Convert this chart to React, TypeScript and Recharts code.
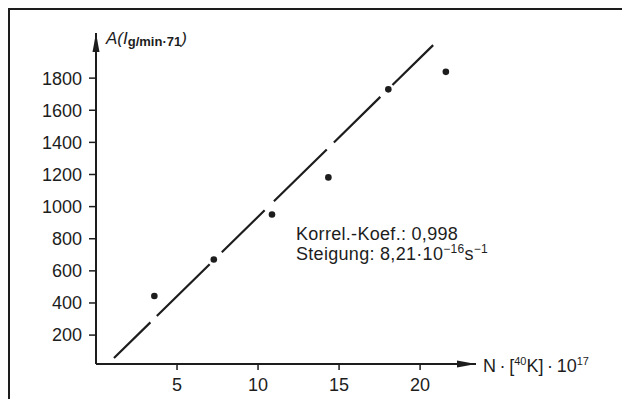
import { ScatterChart, Scatter, XAxis, YAxis, ReferenceLine, ReferenceDot } from 'recharts'

// N·[40K]·10^17 against activity A
const nK = [3.6, 7.27, 10.86, 14.34, 18.04, 21.59]
const activity = [443, 671, 951, 1182, 1730, 1839]

// regression line end points
const fitN = [1.11, 20.93]
const fitA = [57, 2018]

const xTicks = [5, 10, 15, 20]
const yTicks = [200, 400, 600, 800, 1000, 1200, 1400, 1600, 1800]
const xRange = [0, 23.45]
const yRange = [20, 2081]

const points = nK.map((n, i) => ({ n, a: activity[i] }))
const fitSegment = fitN.map((n, i) => ({ x: n, y: fitA[i] }))

const INK = '#1d1d1d'
const FONT = '"Liberation Sans", Arial, Helvetica, sans-serif'

const Dot = ({ cx, cy }: any) => <circle cx={cx} cy={cy} r={3.3} fill={INK} />

// arrow head on top of the y axis, with its title
const UpArrow = ({ cx, cy }: any) => (
  <g>
    <polygon points={`${cx},${cy} ${cx - 3.5},${cy + 19} ${cx + 3.5},${cy + 19}`} fill={INK} />
    <text x={cx + 10} y={cy + 10.5} fontSize={17} fill={INK} fontFamily={FONT}>
      <tspan fontStyle="italic">A(I</tspan>
      <tspan fontSize={13} fontWeight="bold" dy={2}>g/min·71</tspan>
      <tspan fontStyle="italic" dy={-2}>)</tspan>
    </text>
  </g>
)

// arrow head at the end of the x axis, with its title
const RightArrow = ({ cx, cy }: any) => (
  <g>
    <polygon points={`${cx},${cy} ${cx - 19},${cy - 3.5} ${cx - 19},${cy + 3.5}`} fill={INK} />
    <text x={cx + 7} y={cy + 7.5} fontSize={18} fill={INK} fontFamily={FONT}>
      <tspan>{'N\u2009·\u2009['}</tspan>
      <tspan fontSize={11} dy={-6.5}>40</tspan>
      <tspan dy={6.5}>{'K]\u2009·\u200910'}</tspan>
      <tspan fontSize={11} dy={-6.5}>17</tspan>
    </text>
  </g>
)

const sup = { fontSize: 12, verticalAlign: 'top', lineHeight: '12px', position: 'relative', top: -1 } as const

export default function App() {
  return (
    <div
      style={{
        position: 'absolute',
        left: 8,
        top: 8,
        width: 614,
        height: 391,
        borderTop: `2px solid ${INK}`,
        borderLeft: `2px solid ${INK}`,
        boxSizing: 'border-box',
        background: '#fff',
        fontFamily: FONT,
        color: INK,
        overflow: 'hidden',
      }}
    >
      <ScatterChart width={612} height={389} margin={{ top: 23, right: 146, bottom: 0, left: 0 }}>
        <XAxis
          type="number"
          dataKey="n"
          domain={xRange}
          ticks={xTicks}
          allowDataOverflow
          height={35}
          tickSize={6}
          tickMargin={8}
          axisLine={{ stroke: INK, strokeWidth: 2 }}
          tickLine={{ stroke: INK, strokeWidth: 1.5 }}
          tick={{ fill: INK, fontSize: 18, fontFamily: FONT }}
        />
        <YAxis
          type="number"
          dataKey="a"
          domain={yRange}
          ticks={yTicks}
          allowDataOverflow
          width={86}
          tickSize={7}
          tickMargin={7}
          axisLine={{ stroke: INK, strokeWidth: 2 }}
          tickLine={{ stroke: INK, strokeWidth: 1.5 }}
          tick={{ fill: INK, fontSize: 18, fontFamily: FONT }}
        />
        <ReferenceLine
          segment={fitSegment}
          stroke={INK}
          strokeWidth={2.2}
          strokeDasharray="51 9 74 17 60 13 74 10 65 17 57 400"
          ifOverflow="visible"
        />
        <Scatter data={points} shape={Dot} isAnimationActive={false} />
        <ReferenceDot x={xRange[0]} y={yRange[1]} shape={UpArrow} ifOverflow="visible" />
        <ReferenceDot x={xRange[1]} y={yRange[0]} shape={RightArrow} ifOverflow="visible" />
      </ScatterChart>

      <div style={{ position: 'absolute', left: 286, top: 214, fontSize: 18, lineHeight: '20px', whiteSpace: 'nowrap', letterSpacing: 0.3 }}>
        <div>Korrel.-Koef.: 0,998</div>
        <div>
          Steigung: 8,21·10<span style={sup}>−16</span>s<span style={sup}>−1</span>
        </div>
      </div>
    </div>
  )
}
